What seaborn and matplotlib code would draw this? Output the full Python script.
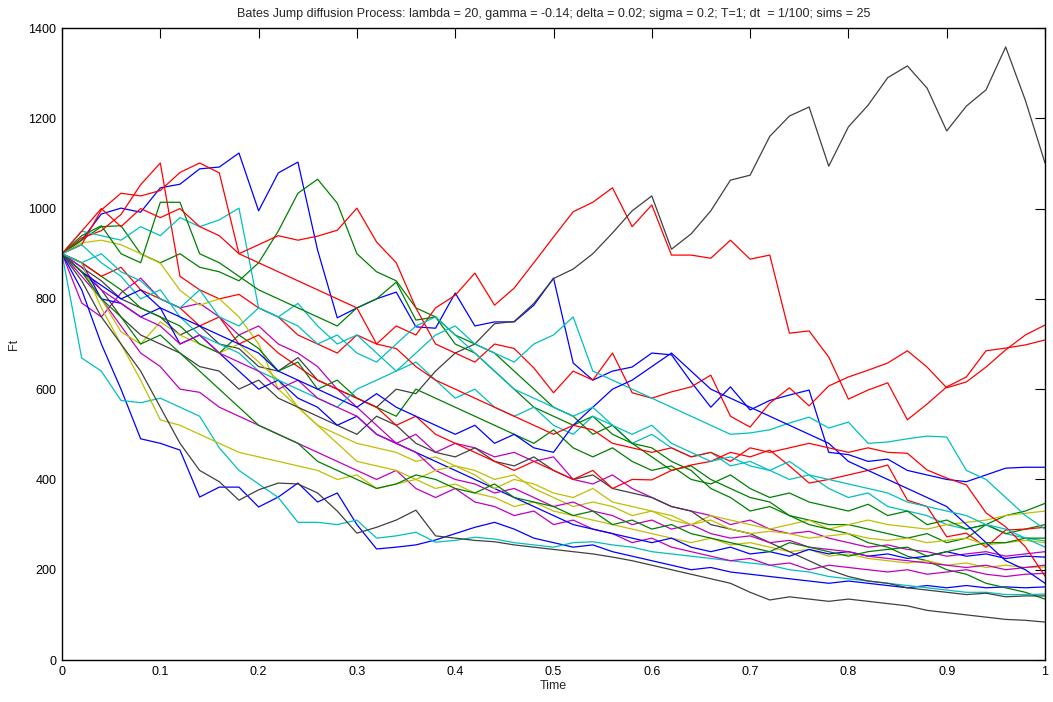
import matplotlib.pyplot as plt
import numpy as np
import pandas as pd
import seaborn as sns

# --- dane (krok 0.02) ---
TIME = np.linspace(0, 1, 51)

B1 = [900, 930, 988, 1001, 992, 1046, 1054, 1088, 1092, 1123, 995, 1079, 1103, 908, 758, 780, 800, 815, 738, 735,
      813, 740, 749, 749, 786, 846, 658, 620, 640, 649, 680, 676, 616, 560, 605, 554, 575, 587, 598, 460,
      455, 440, 445, 420, 410, 400, 395, 410, 425, 427, 427]
G1 = [900, 930, 960, 962, 900, 880, 900, 870, 860, 840, 880, 950, 1034, 1065, 1012, 900, 860, 840, 780, 760,
      700, 680, 640, 600, 560, 540, 520, 540, 500, 480, 470, 440, 420, 380, 360, 330, 340, 320, 310, 300,
      300, 290, 280, 270, 280, 260, 270, 300, 320, 330, 347]
R1 = [900, 935, 951, 987, 1053, 1101, 850, 820, 800, 810, 780, 760, 720, 700, 680, 720, 700, 740, 720, 780,
      808, 857, 786, 824, 880, 937, 993, 1014, 1046, 960, 1008, 897, 897, 890, 930, 888, 897, 724, 729, 671,
      578, 598, 614, 532, 567, 605, 627, 685, 691, 698, 709]
C1 = [900, 950, 940, 930, 960, 940, 980, 960, 975, 1001, 780, 760, 790, 740, 700, 720, 680, 640, 660, 620,
      580, 600, 560, 540, 560, 520, 500, 540, 520, 480, 500, 470, 450, 460, 430, 440, 420, 400, 410, 380,
      360, 370, 340, 330, 320, 300, 290, 300, 280, 270, 264]
M1 = [900, 791, 760, 813, 846, 800, 780, 790, 760, 720, 740, 700, 680, 650, 600, 560, 520, 480, 500, 460,
      480, 470, 450, 460, 440, 450, 400, 390, 410, 380, 360, 340, 330, 320, 300, 310, 290, 280, 285, 270,
      260, 250, 255, 245, 240, 230, 235, 240, 230, 235, 240]
Y1 = [900, 924, 930, 920, 900, 879, 819, 786, 800, 760, 700, 600, 560, 520, 500, 480, 470, 460, 440, 450,
      430, 420, 400, 410, 380, 360, 340, 350, 340, 320, 330, 310, 300, 320, 310, 300, 290, 300, 310, 290,
      300, 310, 300, 295, 290, 300, 305, 310, 320, 325, 330]
K1 = [900, 870, 840, 800, 780, 760, 720, 740, 700, 690, 650, 640, 670, 620, 600, 580, 560, 600, 590, 640,
      680, 700, 745, 750, 790, 845, 866, 900, 946, 995, 1028, 910, 944, 995, 1063, 1074, 1160, 1205, 1225, 1094,
      1181, 1229, 1290, 1316, 1267, 1172, 1227, 1263, 1358, 1240, 1101]
B2 = [900, 820, 700, 600, 490, 480, 465, 361, 383, 383, 339, 361, 392, 350, 370, 300, 246, 250, 255, 266,
      280, 294, 305, 290, 270, 260, 250, 255, 240, 230, 220, 210, 200, 205, 195, 190, 185, 180, 175, 170,
      175, 170, 165, 160, 165, 160, 165, 160, 162, 160, 162]
G2 = [900, 940, 962, 900, 880, 1014, 1014, 900, 880, 850, 820, 800, 780, 760, 740, 780, 800, 837, 753, 760,
      720, 700, 680, 640, 600, 560, 540, 500, 520, 480, 450, 420, 430, 400, 380, 360, 350, 320, 300, 290,
      280, 260, 250, 230, 220, 200, 190, 170, 160, 150, 135]
R2 = [900, 920, 997, 1034, 1028, 1040, 1080, 1101, 1079, 900, 920, 940, 930, 939, 952, 1001, 926, 880, 780, 700,
      680, 660, 700, 690, 647, 592, 640, 620, 680, 592, 580, 594, 605, 631, 540, 516, 569, 603, 563, 607,
      627, 642, 658, 685, 649, 603, 616, 649, 687, 720, 742]
C2 = [900, 669, 640, 575, 570, 580, 560, 540, 470, 420, 390, 360, 305, 305, 300, 310, 270, 275, 283, 261,
      265, 272, 268, 260, 255, 250, 260, 262, 255, 250, 240, 235, 230, 225, 220, 215, 210, 200, 195, 185,
      180, 175, 170, 165, 160, 155, 150, 150, 145, 145, 146]
M2 = [900, 850, 800, 740, 680, 650, 600, 593, 560, 540, 520, 500, 480, 460, 440, 420, 400, 420, 380, 360,
      380, 350, 340, 320, 330, 300, 310, 290, 280, 260, 270, 250, 240, 230, 220, 225, 210, 215, 200, 210,
      205, 200, 195, 200, 190, 195, 200, 190, 185, 190, 192]
Y2 = [900, 860, 800, 727, 700, 749, 720, 700, 680, 700, 660, 620, 560, 520, 480, 440, 430, 420, 400, 380,
      390, 370, 360, 340, 350, 330, 320, 310, 300, 290, 280, 270, 260, 270, 255, 260, 250, 240, 245, 230,
      235, 225, 220, 215, 220, 210, 215, 205, 210, 205, 206]
K2 = [900, 860, 820, 760, 720, 700, 680, 650, 640, 600, 620, 580, 560, 540, 520, 500, 540, 520, 480, 460,
      450, 470, 440, 430, 450, 420, 400, 410, 380, 370, 360, 340, 330, 300, 290, 280, 260, 240, 220, 200,
      185, 175, 170, 160, 155, 150, 145, 148, 140, 142, 142]
B3 = [900, 880, 800, 790, 760, 780, 700, 720, 680, 640, 600, 620, 580, 560, 520, 540, 500, 480, 460, 440,
      420, 400, 380, 360, 340, 320, 300, 290, 280, 270, 260, 270, 250, 240, 250, 235, 240, 230, 245, 235,
      240, 230, 235, 225, 230, 240, 230, 235, 225, 230, 228]
G3 = [900, 880, 850, 820, 780, 760, 740, 700, 680, 720, 690, 640, 660, 600, 620, 580, 560, 540, 600, 580,
      560, 540, 520, 500, 480, 510, 470, 450, 470, 440, 420, 430, 400, 390, 410, 380, 360, 370, 350, 340,
      330, 345, 320, 330, 300, 310, 290, 300, 280, 290, 300]
R3 = [900, 880, 850, 870, 820, 800, 780, 740, 760, 700, 720, 680, 650, 620, 600, 580, 560, 520, 540, 500,
      480, 460, 440, 420, 440, 420, 400, 420, 380, 400, 399, 420, 432, 440, 460, 450, 465, 430, 392, 400,
      410, 420, 432, 354, 340, 273, 281, 250, 288, 290, 294]
C3 = [900, 920, 880, 850, 800, 820, 760, 720, 700, 680, 640, 620, 600, 580, 560, 600, 620, 640, 680, 720,
      740, 700, 680, 660, 700, 720, 760, 640, 620, 600, 580, 560, 540, 520, 500, 503, 510, 525, 538, 514,
      527, 480, 483, 490, 496, 494, 420, 400, 360, 320, 290]
M3 = [900, 870, 820, 790, 760, 740, 700, 720, 680, 660, 640, 600, 620, 580, 560, 540, 500, 480, 460, 420,
      400, 390, 370, 380, 360, 340, 350, 330, 320, 300, 310, 290, 300, 280, 270, 275, 260, 265, 250, 245,
      240, 230, 225, 220, 215, 210, 205, 210, 200, 205, 210]
Y3 = [900, 880, 780, 700, 620, 532, 520, 500, 480, 460, 450, 440, 430, 420, 400, 410, 380, 390, 400, 420,
      430, 410, 380, 400, 390, 370, 360, 380, 350, 340, 330, 320, 300, 310, 290, 280, 285, 280, 270, 275,
      280, 270, 265, 270, 260, 265, 270, 255, 260, 265, 260]
K3 = [900, 840, 760, 700, 640, 560, 480, 420, 395, 354, 377, 392, 390, 370, 330, 281, 294, 310, 332, 275,
      270, 265, 262, 255, 250, 245, 240, 235, 228, 220, 210, 200, 190, 180, 170, 150, 133, 140, 135, 130,
      135, 130, 125, 120, 110, 105, 100, 95, 90, 88, 84]
B4 = [900, 860, 830, 800, 820, 780, 760, 740, 720, 700, 680, 640, 620, 600, 580, 560, 590, 560, 540, 520,
      500, 520, 480, 500, 470, 460, 520, 560, 600, 620, 650, 680, 640, 600, 580, 560, 540, 520, 500, 480,
      440, 420, 400, 380, 360, 340, 300, 260, 220, 200, 170]
G4 = [900, 860, 800, 760, 700, 720, 680, 640, 600, 560, 520, 500, 480, 440, 420, 400, 380, 390, 410, 400,
      380, 370, 390, 360, 350, 340, 320, 330, 300, 310, 290, 300, 280, 270, 260, 250, 240, 260, 250, 240,
      230, 240, 245, 250, 230, 240, 250, 260, 260, 270, 270]
R4 = [900, 950, 1000, 960, 1000, 980, 1000, 960, 940, 900, 880, 860, 840, 820, 800, 780, 700, 690, 650, 620,
      600, 580, 560, 540, 520, 500, 520, 510, 480, 470, 460, 470, 450, 460, 440, 470, 460, 470, 480, 470,
      460, 470, 460, 458, 421, 403, 388, 326, 295, 251, 186]
C4 = [900, 880, 900, 860, 840, 800, 780, 820, 760, 740, 780, 760, 740, 700, 720, 680, 660, 700, 740, 760,
      720, 680, 640, 600, 580, 560, 540, 560, 520, 500, 520, 480, 460, 440, 450, 430, 420, 440, 410, 400,
      390, 380, 370, 350, 340, 330, 320, 300, 290, 270, 250]

# kolejnosc rysowania jak w MATLAB: b g r c m y k ...
SERIES = [B1, G1, R1, C1, M1, Y1, K1,
          B2, G2, R2, C2, M2, Y2, K2,
          B3, G3, R3, C3, M3, Y3, K3,
          B4, G4, R4, C4]

MATLAB_COLORS = [(0, 0, 1), (0, 0.5, 0), (1, 0, 0), (0, 0.75, 0.75),
                 (0.75, 0, 0.75), (0.75, 0.75, 0), (0.25, 0.25, 0.25)]

TITLE = ("Bates Jump diffusion Process: lambda = 20, gamma = -0.14; delta = 0.02; "
         "sigma = 0.2; T=1; dt  = 1/100; sims = 25")


def main():
    for s in SERIES:
        assert len(s) == len(TIME)

    df = pd.DataFrame({
        "Time": np.tile(TIME, len(SERIES)),
        "Ft": np.concatenate(SERIES),
        "sim": np.repeat(np.arange(len(SERIES)), len(TIME)),
    })
    palette = [MATLAB_COLORS[i % 7] for i in range(len(SERIES))]

    sns.set_style("white")
    plt.rcParams["font.family"] = ["Liberation Sans", "DejaVu Sans"]

    fig, ax = plt.subplots(figsize=(10.53, 7.02), dpi=100)
    fig.subplots_adjust(left=0.0589, right=0.9924, bottom=0.0598, top=0.9601)

    sns.lineplot(data=df, x="Time", y="Ft", hue="sim", palette=palette,
                 estimator=None, sort=False, legend=False, linewidth=0.9, ax=ax)

    ax.set_xlim(0, 1)
    ax.set_ylim(0, 1400)
    xt = np.round(np.arange(0, 1.01, 0.1), 1)
    ax.set_xticks(xt)
    ax.set_xticklabels(["0" if v == 0 else ("1" if v == 1 else f"{v:g}") for v in xt])
    ax.set_yticks(np.arange(0, 1401, 200))
    ax.tick_params(direction="in", top=True, right=True, length=7.5, width=0.8,
                   labelsize=9, colors="black", pad=4)
    for sp in ax.spines.values():
        sp.set_color("black")
        sp.set_linewidth(1.0)

    ax.set_title(TITLE, fontsize=9, pad=8)
    ax.set_xlabel("Time", fontsize=9, labelpad=2)
    ax.set_ylabel("Ft", fontsize=9, labelpad=6)

    fig.savefig("out.png", dpi=100)
    plt.close(fig)


if __name__ == "__main__":
    main()
